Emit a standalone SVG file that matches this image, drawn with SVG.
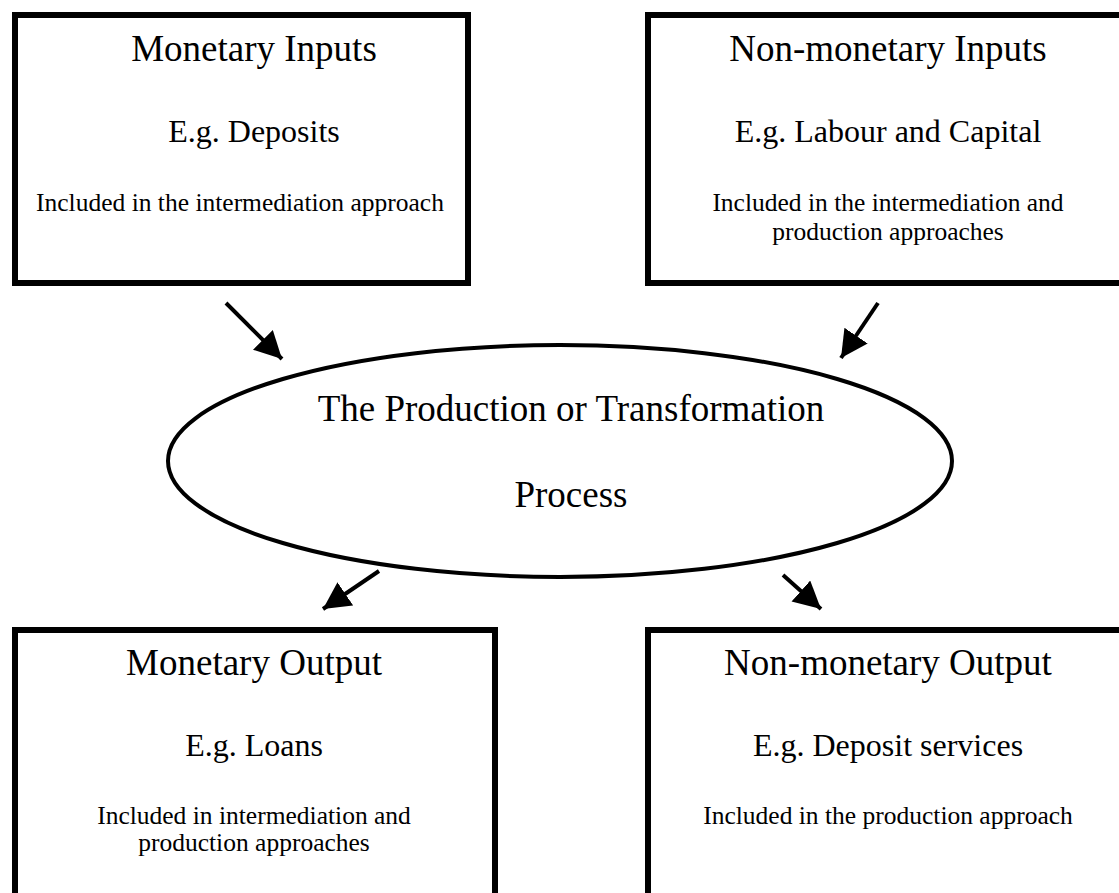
<svg xmlns="http://www.w3.org/2000/svg" width="1119" height="893" viewBox="0 0 1119 893">
<defs>
<marker id="ah" markerUnits="userSpaceOnUse" markerWidth="30" markerHeight="30" refX="27" refY="14" orient="auto">
<path d="M0,0 L27,14 L0,28 Z" fill="#000"/>
</marker>
<style>
.box{fill:#fff;stroke:#000;stroke-width:6}
.t{font-family:"Liberation Serif","Times New Roman",serif;fill:#000;text-anchor:middle}
.h{font-size:37px}
.m{font-size:32px}
.s{font-size:25.5px}
.c{stroke:#000;stroke-width:4;fill:none}
</style>
</defs>
<rect width="1119" height="893" fill="#fff"/>
<g id="monetary-inputs">
<rect class="box" x="15" y="15" width="453" height="268"/>
<text class="t h" x="254" y="61">Monetary Inputs</text>
<text class="t m" x="254" y="142">E.g. Deposits</text>
<text class="t s" x="240" y="211">Included in the intermediation approach</text>
</g>
<g id="non-monetary-inputs">
<rect class="box" x="648" y="15" width="480" height="268"/>
<text class="t h" x="888" y="61">Non-monetary Inputs</text>
<text class="t m" x="888" y="142">E.g. Labour and Capital</text>
<text class="t s" x="888" y="211">Included in the intermediation and</text>
<text class="t s" x="888" y="240">production approaches</text>
</g>
<g id="process">
<ellipse cx="560" cy="461" rx="392" ry="116" fill="#fff" stroke="#000" stroke-width="4"/>
<text class="t h" x="571" y="421">The Production or Transformation</text>
<text class="t h" x="571" y="507">Process</text>
</g>
<g id="monetary-output">
<rect class="box" x="15" y="630" width="480" height="280"/>
<text class="t h" x="254" y="675">Monetary Output</text>
<text class="t m" x="254" y="756">E.g. Loans</text>
<text class="t s" x="254" y="824">Included in intermediation and</text>
<text class="t s" x="254" y="851">production approaches</text>
</g>
<g id="non-monetary-output">
<rect class="box" x="648" y="630" width="480" height="280"/>
<text class="t h" x="888" y="675">Non-monetary Output</text>
<text class="t m" x="888" y="756">E.g. Deposit services</text>
<text class="t s" x="888" y="824">Included in the production approach</text>
</g>
<g id="connectors">
<line class="c" x1="226" y1="303" x2="282" y2="359" marker-end="url(#ah)"/>
<line class="c" x1="878" y1="303" x2="841" y2="358" marker-end="url(#ah)"/>
<line class="c" x1="379" y1="571" x2="323" y2="609" marker-end="url(#ah)"/>
<line class="c" x1="783" y1="575" x2="821" y2="609" marker-end="url(#ah)"/>
</g>
</svg>
